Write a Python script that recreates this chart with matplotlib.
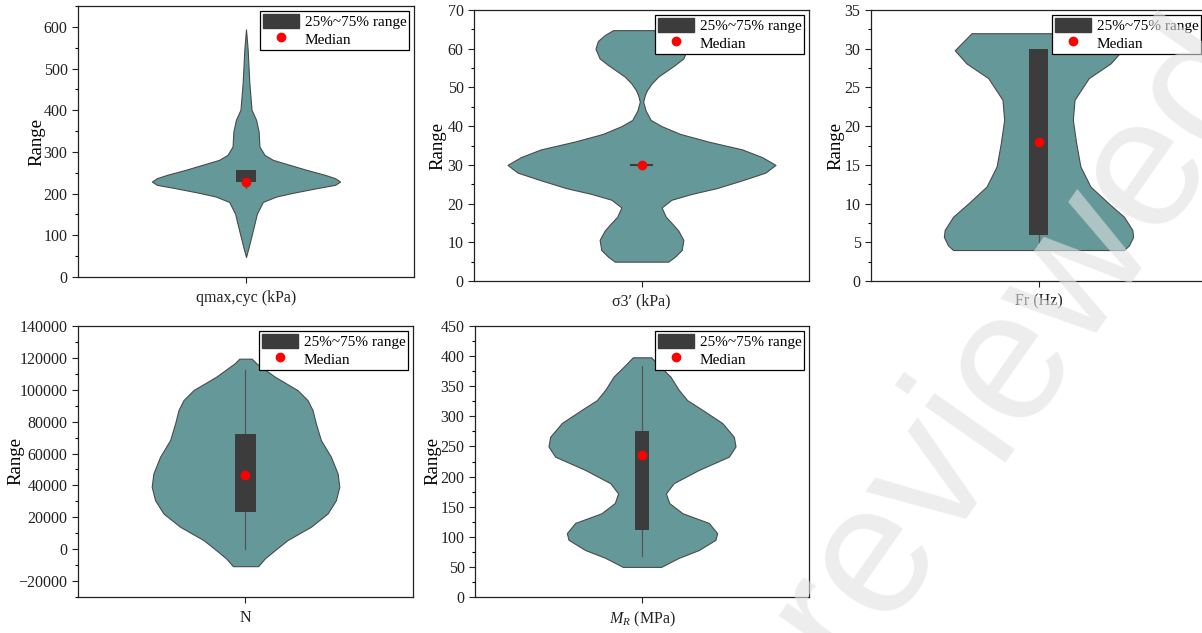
import matplotlib
matplotlib.use("Agg")
import matplotlib.pyplot as plt
from matplotlib.patches import Patch
from matplotlib.lines import Line2D
from matplotlib.ticker import MultipleLocator, AutoMinorLocator

plt.rcParams['font.family'] = ['Liberation Serif', 'DejaVu Serif']
plt.rcParams['mathtext.fontset'] = 'custom'
plt.rcParams['mathtext.rm'] = 'Liberation Serif'
plt.rcParams['mathtext.it'] = 'Liberation Serif:italic'

# violin outlines: value levels and half widths (xlim is -1..1)
q_levels = [48, 72, 104, 152, 180, 193, 202, 213, 221, 229, 237, 245, 257, 269, 281, 293,
            313, 335, 349, 377, 401, 465, 545, 594]
q_widths = [0, 0.016, 0.036, 0.065, 0.10, 0.18, 0.28, 0.42, 0.53, 0.56, 0.53, 0.47, 0.36,
            0.26, 0.16, 0.11, 0.08, 0.077, 0.075, 0.06, 0.033, 0.02, 0.01, 0]

s_levels = [5.0, 6.3, 8.0, 10.6, 13.0, 14.5, 16.6, 19.0, 21.0, 22.5, 24.0, 26.0, 28.0, 30.0,
            32.0, 34.0, 36.0, 38.0, 40.0, 41.6, 44.0, 46.3, 48.0, 49.3, 51.0, 52.8, 54.3,
            55.8, 57.5, 60.0, 62.0, 63.5, 64.8]
s_widths = [0.16, 0.20, 0.24, 0.25, 0.22, 0.19, 0.145, 0.12, 0.18, 0.30, 0.45, 0.60, 0.74,
            0.80, 0.72, 0.60, 0.40, 0.23, 0.12, 0.055, 0.025, 0.01, 0.02, 0.033, 0.06, 0.10,
            0.15, 0.20, 0.25, 0.275, 0.26, 0.22, 0.17]

f_levels = [4.0, 4.6, 5.7, 6.6, 8.3, 10.0, 12.2, 14.8, 17.8, 20.8, 23.4, 26.2, 28.1, 29.8, 32.0]
f_widths = [0.51, 0.54, 0.565, 0.56, 0.51, 0.42, 0.31, 0.25, 0.225, 0.205, 0.215, 0.30,
            0.43, 0.50, 0.40]

n_levels = [-10670, -5860, -630, 5650, 14020, 22390, 30760, 39130, 47500, 57970, 68430,
            78900, 87260, 93540, 99820, 108190, 116560, 119500]
n_widths = [0.075, 0.115, 0.175, 0.25, 0.39, 0.49, 0.54, 0.56, 0.55, 0.51, 0.45, 0.42,
            0.40, 0.37, 0.31, 0.175, 0.065, 0.037]

m_levels = [50, 65, 78, 95, 106, 123, 139, 156, 172, 189, 211, 233, 250, 266, 289, 311,
            327, 344, 366, 385, 398]
m_widths = [0.115, 0.22, 0.34, 0.44, 0.45, 0.40, 0.243, 0.163, 0.143, 0.19, 0.34, 0.52,
            0.56, 0.55, 0.48, 0.36, 0.27, 0.22, 0.17, 0.10, 0.055]

labels = ['qmax,cyc (kPa)', 'σ3′ (kPa)', 'Fr (Hz)', 'N', '$M_R$ (MPa)']
q1 = [229, 30, 6, 23440, 110.6]
q3 = [257, 30, 30, 72420, 276.4]
medians = [229, 30, 18, 46250, 236]
whisk_lo = [214, 30, 5, 0, 67.5]
whisk_hi = [257, 30, 30, 112380, 384]
box_half = [0.06, 0.06, 0.058, 0.06, 0.042]

ylims = [(0, 650), (0, 70), (0, 35), (-30000, 140000), (0, 450)]
ysteps = [100, 10, 5, 20000, 50]

violin_col = '#659999'
box_col = '#3c3c3c'

W, H = 1202, 633
boxes_px = [(78, 6, 414, 277), (474, 10, 809, 281), (871, 10, 1206, 281),
            (78, 326, 413, 597), (475, 326, 809, 597)]
ylabel_x = [-0.098, -0.081, -0.078, -0.161, -0.099]

fig = plt.figure(figsize=(W / 100, H / 100), dpi=100)

profiles = [(q_levels, q_widths), (s_levels, s_widths), (f_levels, f_widths),
            (n_levels, n_widths), (m_levels, m_widths)]

for i in range(5):
    x0, y0, x1, y1 = boxes_px[i]
    ax = fig.add_axes([x0 / W, 1 - y1 / H, (x1 - x0) / W, (y1 - y0) / H])
    lev, wid = profiles[i]
    ax.fill_betweenx(lev, [-w for w in wid], wid, facecolor=violin_col,
                     edgecolor='#4a4a4a', linewidth=0.8, zorder=2)
    ax.plot([0, 0], [whisk_lo[i], whisk_hi[i]], color='#555555', lw=0.9, zorder=3)
    bh = box_half[i]
    if q3[i] - q1[i] > 0:
        ax.bar(0, q3[i] - q1[i], bottom=q1[i], width=2 * bh, color=box_col, zorder=4)
    else:
        ax.plot([-bh, bh], [q1[i], q1[i]], color=box_col, lw=1.5, zorder=4)
    ax.plot(0, medians[i], 'o', color='red', markersize=6, zorder=5)

    ax.set_xlim(-1, 1)
    ax.set_ylim(*ylims[i])
    ax.yaxis.set_major_locator(MultipleLocator(ysteps[i]))
    ax.yaxis.set_minor_locator(AutoMinorLocator(2))
    ax.set_xticks([0])
    ax.set_xticklabels([labels[i]])
    ax.tick_params(axis='both', labelsize=11.5, direction='out', length=4, width=0.8,
                   colors='#222222')
    ax.tick_params(axis='x', pad=5)
    ax.tick_params(axis='y', which='minor', length=2, width=0.8)
    ax.set_ylabel('Range', fontsize=13.5)
    ax.yaxis.set_label_coords(ylabel_x[i], 0.5)
    for s in ax.spines.values():
        s.set_linewidth(0.9)
        s.set_color('#222222')

    handles = [Patch(facecolor=box_col, edgecolor=box_col),
               Line2D([], [], marker='o', color='red', linestyle='none', markersize=6)]
    leg = ax.legend(handles, ['25%~75% range', 'Median'], loc='upper right',
                    fontsize=11, fancybox=False, framealpha=1, edgecolor='black',
                    borderaxespad=0.3, borderpad=0.2, labelspacing=0.12,
                    handlelength=2.3, handleheight=1.1, handletextpad=0.4)
    leg.get_frame().set_linewidth(0.9)
    leg.set_zorder(6)

# watermark over everything
fig.text(1059 / W, 1 - 369 / H, 'reviewed', fontsize=133, family='Liberation Sans',
         color='#e2e2e2', alpha=0.6, rotation=55, ha='center', va='baseline',
         rotation_mode='anchor', zorder=20)

fig.savefig('out.png', dpi=100)
